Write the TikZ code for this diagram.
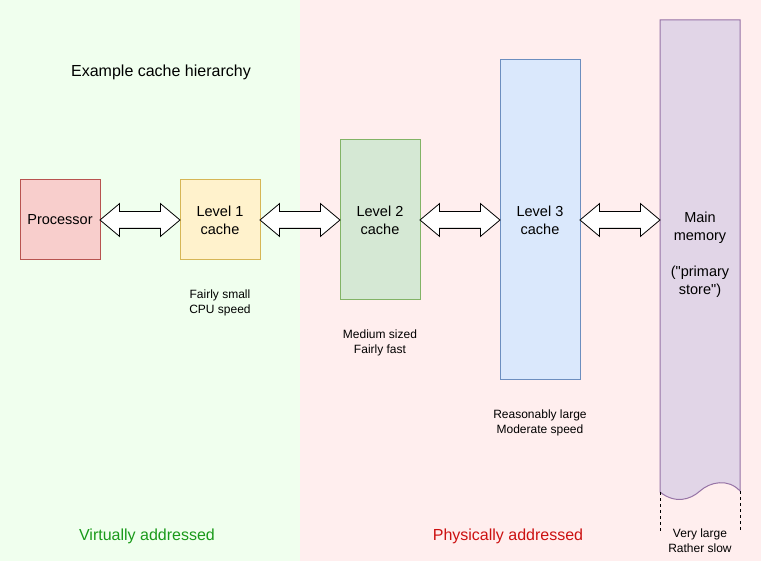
\documentclass[tikz,border=0pt]{standalone}
\usepackage{fontspec}
\setmainfont{Liberation Sans}
\newfontfamily\plainfont{Liberation Sans}
\usetikzlibrary{positioning,shapes.arrows}
\definecolor{virtbg}{HTML}{F0FFEE}
\definecolor{physbg}{HTML}{FFEEEE}
\definecolor{procfill}{HTML}{F8CECC}
\definecolor{procline}{HTML}{B85450}
\definecolor{lonefill}{HTML}{FFF2CC}
\definecolor{loneline}{HTML}{D6B656}
\definecolor{ltwofill}{HTML}{D5E8D4}
\definecolor{ltwoline}{HTML}{82B366}
\definecolor{lthreefill}{HTML}{DAE8FC}
\definecolor{lthreeline}{HTML}{6C8EBF}
\definecolor{memfill}{HTML}{E1D5E7}
\definecolor{memline}{HTML}{9673A6}
\definecolor{virtgreen}{HTML}{1A9A1A}
\definecolor{physred}{HTML}{CC1111}
\begin{document}
\begin{tikzpicture}[x=1pt, y=-1pt,
    box/.style={draw, line width=1pt, minimum width=80pt, inner sep=0pt, align=center, font=\fontsize{14.5}{18}\selectfont},
    note/.style={inner sep=0pt, align=center, font=\fontsize{12}{15}\selectfont},
    area/.style={inner sep=0pt, font=\fontsize{16}{19}\selectfont},
    dblarrow/.style={double arrow, draw, fill=white, line width=0.8pt, inner sep=8pt,
      minimum height=80pt, double arrow head extend=8pt, double arrow tip angle=80}]
  \useasboundingbox (0,0) rectangle (761,561);
  \fill[virtbg] (0,0) rectangle (300,561);
  \fill[physbg] (300,0) rectangle (761,561);

  \node[box, fill=procfill, draw=procline, minimum height=80pt] (processor) at (60,220) {Processor};
  \node[box, fill=lonefill, draw=loneline, minimum height=80pt] (level1) at (220,220) {Level 1\\cache};
  \node[box, fill=ltwofill, draw=ltwoline, minimum height=160pt] (level2) at (380,220) {Level 2\\cache};
  \node[box, fill=lthreefill, draw=lthreeline, minimum height=320pt] (level3) at (540,220) {Level 3\\cache};

  % main memory has a torn bottom edge
  \draw[line width=1pt, draw=memline, fill=memfill] (660,20) -- (740,20) -- (740,491)
    .. controls (728,478) and (710,482) .. (700,491)
    .. controls (690,500) and (675,504) .. (660,492) -- cycle;
  \draw[dash pattern=on 3pt off 3pt] (660,492) -- (660,531) (740,491) -- (740,531);
  \node[box, draw=none, minimum height=470pt, font=\plainfont\fontsize{14.5}{18}\selectfont] (mem) at (700,255)
    {Main\\memory\\ \\("primary\\store")};

  \foreach \from/\to in {processor/level1, level1/level2, level2/level3, level3/mem}
    \path (\from.east) -- (\from.east -| \to.west) node[midway, dblarrow] {};

  \node[note, below=29pt of level1] (level1note) {Fairly small\\CPU speed};
  \node[note, below=29pt of level2] (level2note) {Medium sized\\Fairly fast};
  \node[note, below=29pt of level3] (level3note) {Reasonably large\\Moderate speed};
  \node[note, below=38pt of mem] (memnote) {Very large\\Rather slow};

  \node[area] (title) at (161,72) {Example cache hierarchy};
  \node[area, text=virtgreen] (virtual) at (147,536) {Virtually addressed};
  \node[area, text=physred] (physical) at (508,536) {Physically addressed};
\end{tikzpicture}
\end{document}
